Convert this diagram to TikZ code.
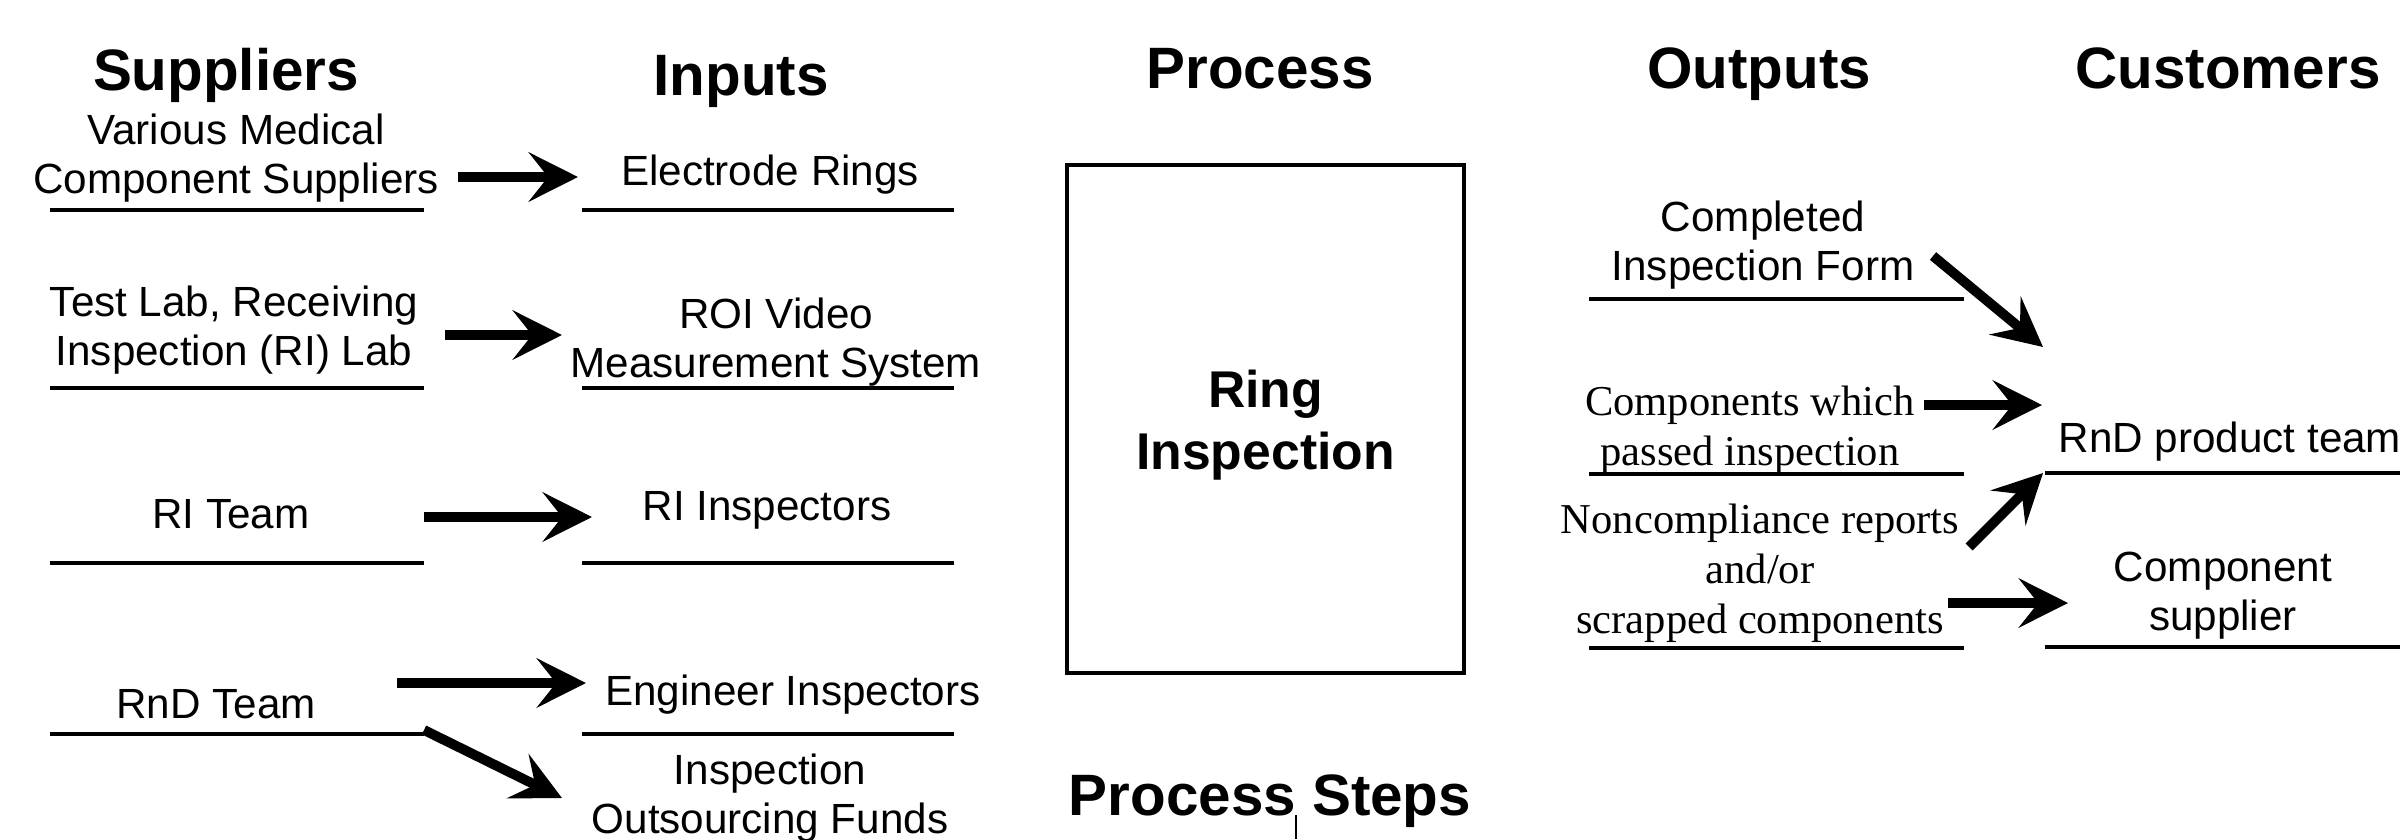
\documentclass[tikz,border=0pt]{standalone}
\usepackage{fontspec}
\setmainfont{Liberation Sans}
\newfontfamily\timesfont{Liberation Serif}
\usetikzlibrary{arrows.meta}

\begin{document}
\begin{tikzpicture}[x=0.01cm, y=-0.01cm,
    head/.style={font=\fontsize{16.6}{20}\selectfont\bfseries, anchor=base, inner sep=0pt},
    txt/.style={font=\fontsize{12}{13.9}\selectfont, align=center, anchor=base, inner sep=0pt},
    serif/.style={font=\fontsize{12.1}{14.2}\selectfont\timesfont, align=center, anchor=base, inner sep=0pt},
    uline/.style={line width=1.1pt},
    flow/.style={line width=2.8pt, -{Stealth[length=14pt, width=14pt, inset=5.5pt]}}]
  \useasboundingbox (0,0) rectangle (2400,839);

  % column headings
  \node[head] (hsup)  at (226,90)  {Suppliers};
  \node[head] (hin)   at (741,95)  {Inputs};
  \node[head] (hproc) at (1260,88) {Process};
  \node[head] (hout)  at (1759,88) {Outputs};
  \node[head] (hcus)  at (2228,88) {Customers};

  % suppliers (base = last line)
  \node[txt] (sup1) at (236,193) {Various Medical\\Component Suppliers};
  \node[txt] (sup2) at (234,365) {Test Lab, Receiving\\Inspection (RI) Lab};
  \node[txt] (sup3) at (231,528) {RI Team};
  \node[txt] (sup4) at (216,718) {RnD Team};

  % inputs
  \node[txt] (in1) at (770,185) {Electrode Rings};
  \node[txt] (in2) at (776,377) {ROI Video\\Measurement System};
  \node[txt] (in3) at (767,520) {RI Inspectors};
  \node[txt] (in4) at (793,705) {Engineer Inspectors};
  \node[txt] (in5) at (770,833) {Inspection\\Outsourcing Funds};

  % underlines
  \foreach \y in {210,388,563,734} {
    \draw[uline] (50,\y) -- (424,\y);
    \draw[uline] (582,\y) -- (954,\y);
  }
  \foreach \y in {299,474,648} \draw[uline] (1589,\y) -- (1964,\y);
  \foreach \y in {473,647} \draw[uline] (2045,\y) -- (2400,\y);

  % process
  \node[draw, line width=1.3pt, minimum width=3.97cm, minimum height=5.08cm] (proc) at (1265.5,419) {};
  \node[font=\fontsize{14.7}{17.6}\selectfont\bfseries, align=center, anchor=base, inner sep=0pt]
    (ring) at (1265.5,469) {Ring\\Inspection};
  \node[head] (steps) at (1270,815) {Process Steps};
  \coordinate (tick) at (1296,839);
  \draw[line width=0.5pt] (steps.base -| tick) -- (tick);

  % outputs
  \node[txt] (out1) at (1763,280) {Completed\\Inspection Form};
  \node[serif] (out2) at (1750,465) {Components which\\passed inspection};
  \node[serif] (out3) at (1760,633) {Noncompliance reports\\and/or\\scrapped components};

  % customers
  \node[txt, anchor=base west] (cus1) at (2058,452) {RnD product team};
  \node[txt] (cus2) at (2223,630) {Component\\supplier};

  % arrow ends
  \coordinate (a1) at (458,177);  \coordinate (b1) at (578,177);
  \coordinate (a2) at (445,335);  \coordinate (b2) at (562,335);
  \coordinate (a3) at (424,517);  \coordinate (b3) at (592,517);
  \coordinate (a4) at (397,683);  \coordinate (b4) at (586,683);
  \coordinate (a5) at (424,730);  \coordinate (b5) at (562,798);
  \coordinate (a6) at (1933,256); \coordinate (b6) at (2043,347);
  \coordinate (a7) at (1924,405); \coordinate (b7) at (2042,405);
  \coordinate (a8) at (1969,547); \coordinate (b8) at (2043,473);
  \coordinate (a9) at (1948,603); \coordinate (b9) at (2068,603);

  \foreach \i in {1,...,9} \draw[flow] (a\i) -- (b\i);
\end{tikzpicture}
\end{document}
